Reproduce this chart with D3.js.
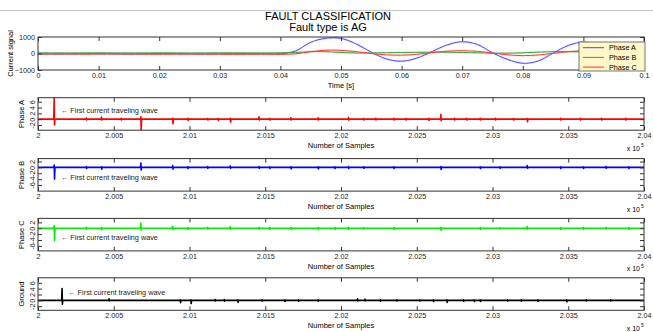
<!DOCTYPE html>
<html>
<head>
<meta charset="utf-8">
<script src="https://cdn.jsdelivr.net/npm/d3@7"></script>
<style>
body { margin: 0; background: #fff; }
svg { font-family: "Liberation Sans", Arial, sans-serif; }
</style>
</head>
<body>
<svg id="chart" width="653" height="332"></svg>
<script>
// ---- data ----
// top panel: time (s) and the three phase currents
const timeS = [0, 0.0025, 0.005, 0.0075, 0.01, 0.0125, 0.015, 0.0175, 0.02, 0.0225,
  0.025, 0.0275, 0.03, 0.0325, 0.035, 0.0375, 0.04, 0.0425, 0.045, 0.0475,
  0.05, 0.0525, 0.055, 0.0575, 0.06, 0.0625, 0.065, 0.0675, 0.07, 0.0725,
  0.075, 0.0775, 0.08, 0.0825, 0.085, 0.0875, 0.09, 0.0925, 0.095, 0.0975, 0.1];
const currentA = [-20, -25, -20, -15, -15, -20, -25, -20, -15, -15, -20, -25, -20, -15, -15, -20, -15,
  150, 680, 920, 915, 580, 80, -330, -467, -280, 110, 520, 714, 550, 40, -360, -592, -460, 20, 485, 690, 505, 30, -385, -555];
const currentB = [40, 35, 30, 35, 40, 35, 30, 35, 40, 35, 30, 35, 40, 40, 35, 35, 40,
  60, 110, 110, 60, 30, 30, 50, 60, 70, 80, 80, 60, 40, 20, 20, 40, 80, 110, 110, 100, 90, 90, 100, 100];
const currentC = [-30, -30, -35, -40, -35, -30, -35, -40, -45, -40, -35, -40, -45, -50, -45, -45, -50,
  -20, 110, 200, 190, 110, 0, -80, -100, -50, 50, 140, 170, 130, 30, -80, -130, -90, 10, 110, 150, 110, 10, -80, -120];
const timeTicks = [0, 0.01, 0.02, 0.03, 0.04, 0.05, 0.06, 0.07, 0.08, 0.09, 0.1];
const currentTicks = [-1000, 0, 1000];
const legendNames = ["Phase A", "Phase B", "Phase C"];

// lower panels: samples (x 10^5); each event = [sample, max, min]
const sampleTicks = [2, 2.005, 2.01, 2.015, 2.02, 2.025, 2.03, 2.035, 2.04];
const wavePhaseA = [[2.00108, 7.4, -2.0], [2.0032, 0.4, -0.3], [2.0042, 0.7, -0.3], [2.0055, 0.3, -0.3],
  [2.0068, 0.8, -3.8], [2.0089, 0.3, -1.6], [2.0099, 0.3, -0.4], [2.0112, 0.2, -0.3], [2.0119, 0.2, -0.4],
  [2.0127, 0.3, -1.0], [2.0146, 0.8, -0.3], [2.0153, 0.3, -0.3], [2.0167, 0.5, -0.3], [2.0185, 0.5, -0.3],
  [2.0205, 0.6, -0.3], [2.0215, 0.2, -0.3], [2.0223, 0.3, -0.3], [2.0235, 0.3, -0.3], [2.0243, 0.2, -0.3],
  [2.0258, 0.3, -0.4], [2.0266, 1.6, -0.5], [2.0275, 0.3, -0.3], [2.0283, 0.3, -0.3], [2.0292, 0.3, -0.3],
  [2.0302, 0.3, -0.3], [2.0314, 0.2, -0.3], [2.0323, 0.2, -0.9], [2.0345, 0.3, -0.3], [2.0358, 0.3, -0.3],
  [2.0372, 0.3, -0.3], [2.0388, 0.3, -0.3]];
const wavePhaseB = [[2.00108, 0.8, -4.0], [2.0032, 0.3, -0.4], [2.0042, 0.2, -0.6], [2.0068, 1.5, -0.9],
  [2.0089, 0.6, -0.6], [2.0099, 0.2, -0.4], [2.0112, 0.3, -0.3], [2.0127, 0.5, -0.3], [2.0146, 0.3, -0.3],
  [2.0153, 0.2, -0.4], [2.0167, 0.2, -0.5], [2.0185, 0.2, -0.5], [2.0196, 0.2, -0.4], [2.0205, 0.3, -0.4],
  [2.0215, 0.2, -0.3], [2.0235, 0.2, -0.4], [2.0266, 0.3, -0.7], [2.0292, 0.2, -0.4], [2.0305, 0.2, -0.3],
  [2.0323, 0.6, -0.3], [2.0345, 0.2, -0.4], [2.036, 0.2, -0.4], [2.0375, 0.3, -0.3], [2.039, 0.2, -0.4]];
const wavePhaseC = [[2.00108, 0.8, -4.2], [2.0032, 0.3, -0.4], [2.0042, 0.2, -0.5], [2.0068, 1.8, -0.6],
  [2.0089, 0.7, -0.5], [2.0099, 0.2, -0.4], [2.0112, 0.3, -0.3], [2.0127, 0.5, -0.3], [2.0146, 0.3, -0.3],
  [2.0153, 0.2, -0.4], [2.0167, 0.2, -0.5], [2.0185, 0.2, -0.5], [2.0196, 0.2, -0.4], [2.0205, 0.3, -0.4],
  [2.0215, 0.2, -0.3], [2.0235, 0.2, -0.4], [2.0266, 0.3, -0.7], [2.0292, 0.2, -0.4], [2.0305, 0.2, -0.3],
  [2.0323, 0.6, -0.3], [2.0345, 0.2, -0.4], [2.036, 0.2, -0.4], [2.0375, 0.3, -0.3], [2.039, 0.2, -0.4]];
const waveGround = [[2.0016, 4.0, -1.3], [2.0047, 0.5, -0.2], [2.0094, 0.2, -0.8], [2.0101, 0.2, -1.1],
  [2.0117, 0.3, -0.2], [2.0123, 0.3, -0.3], [2.0132, 0.2, -0.7], [2.0148, 0.2, -0.2], [2.0163, 0.2, -0.4],
  [2.0172, 0.2, -0.3], [2.0185, 0.2, -0.3], [2.0211, 0.5, -0.2], [2.0216, 0.4, -0.2], [2.0226, 0.2, -0.3],
  [2.0237, 0.2, -0.2], [2.0252, 0.2, -0.2], [2.0261, 0.2, -0.4], [2.027, 0.2, -0.7], [2.0281, 0.2, -0.3],
  [2.0288, 0.2, -0.4], [2.0292, 0.2, -0.4], [2.031, 0.2, -0.2], [2.0319, 0.2, -0.3], [2.033, 0.2, -0.3],
  [2.0349, 0.2, -0.5], [2.0362, 0.2, -0.2], [2.0378, 0.2, -0.2]];

// ---- layout ----
const svg = d3.select("#chart");
const left = 38, right = 644;
const axisColor = "#333";

svg.append("line").attr("x1", 0).attr("x2", 653).attr("y1", 10.5).attr("y2", 10.5)
  .attr("stroke", "#c8c8c8");

svg.append("text").attr("x", 328).attr("y", 20).attr("text-anchor", "middle")
  .style("font-size", "11px").text("FAULT CLASSIFICATION");
svg.append("text").attr("x", 328).attr("y", 31).attr("text-anchor", "middle")
  .style("font-size", "11px").text("Fault type is AG");

// draws the box, inward ticks on all four sides
function drawFrame(g, x, y, top, bottom, xTicks, xFmt, yTicks, yFmt, rotateY) {
  g.append("rect").attr("x", left).attr("y", top).attr("width", right - left).attr("height", bottom - top)
    .attr("fill", "none").attr("stroke", axisColor);

  g.append("g").attr("transform", `translate(0,${bottom})`)
    .call(d3.axisBottom(x).tickValues(xTicks).tickFormat(xFmt).tickSizeInner(-4).tickSizeOuter(0).tickPadding(3));
  g.append("g").attr("transform", `translate(0,${top})`)
    .call(d3.axisTop(x).tickValues(xTicks).tickFormat("").tickSizeInner(-4).tickSizeOuter(0));
  const yl = g.append("g").attr("transform", `translate(${left},0)`)
    .call(d3.axisLeft(y).tickValues(yTicks).tickFormat(yFmt).tickSizeInner(-4).tickSizeOuter(0).tickPadding(3));
  g.append("g").attr("transform", `translate(${right},0)`)
    .call(d3.axisRight(y).tickValues(yTicks).tickFormat("").tickSizeInner(-4).tickSizeOuter(0));

  g.selectAll(".domain").remove();
  g.selectAll(".tick line").attr("stroke", axisColor);
  g.selectAll(".tick text").attr("fill", "#222").style("font-size", "7.2px").style("font-family", "Liberation Sans, Arial, sans-serif");
  if (rotateY) {
    yl.selectAll(".tick text")
      .attr("x", null).attr("dy", null).attr("text-anchor", "middle")
      .attr("transform", "translate(-3,0) rotate(-90)");
  }
}

// ---- top panel ----
const topY0 = 37, topY1 = 70;
const xTime = d3.scaleLinear().domain([0, 0.1]).range([left, right]);
const yCur = d3.scaleLinear().domain([-1000, 1000]).range([topY1, topY0]);
const gTop = svg.append("g");

svg.append("clipPath").attr("id", "clip-top").append("rect")
  .attr("x", left).attr("y", topY0).attr("width", right - left).attr("height", topY1 - topY0);

const curLine = d3.line().x(d => xTime(d[0])).y(d => yCur(d[1])).curve(d3.curveCatmullRom);
const series = [
  { name: legendNames[0], values: currentA, color: "#4a4aff", pale: "#c8c8ff" },
  { name: legendNames[1], values: currentB, color: "#36a336", pale: "#c8ecc8" },
  { name: legendNames[2], values: currentC, color: "#ff3a3a", pale: "#ffcccc" }
];
const plotTop = gTop.append("g").attr("clip-path", "url(#clip-top)");
series.forEach(s => {
  plotTop.append("path").datum(timeS.map((t, i) => [t, s.values[i]]))
    .attr("fill", "none").attr("stroke", s.pale).attr("stroke-width", 2.5).attr("opacity", 0.45)
    .attr("stroke-dasharray", "12,2")
    .attr("d", curLine);
});
series.forEach(s => {
  plotTop.append("path").datum(timeS.map((t, i) => [t, s.values[i]]))
    .attr("fill", "none").attr("stroke", s.color).attr("stroke-width", 1)
    .attr("d", curLine);
});
drawFrame(gTop, xTime, yCur, topY0, topY1, timeTicks, d => d === 0 ? "0" : d3.format(".2~f")(d),
  currentTicks, d3.format("d"), false);

gTop.append("text").attr("x", (left + right) / 2).attr("y", topY1 + 17.5).attr("text-anchor", "middle")
  .style("font-size", "7.5px").text("Time [s]");
gTop.append("text").attr("transform", `translate(13,${(topY0 + topY1) / 2}) rotate(-90)`)
  .attr("text-anchor", "middle").style("font-size", "7.5px").text("Current signal");

// legend
const legend = gTop.append("g").attr("transform", "translate(579,42)");
legend.append("rect").attr("width", 66).attr("height", 29)
  .attr("fill", "#fff7c8").attr("stroke", "#555").attr("stroke-width", 0.8);
series.forEach((s, i) => {
  const ly = 5.7 + i * 9.7;
  legend.append("line").attr("x1", 4).attr("x2", 25).attr("y1", ly).attr("y2", ly)
    .attr("stroke", s.color).attr("stroke-width", 1);
  legend.append("text").attr("x", 30).attr("y", ly + 2.6).style("font-size", "7.2px").text(s.name);
});

// ---- lower panels ----
const xSample = d3.scaleLinear().domain([2, 2.04]).range([left, right]);
const panels = [
  { label: "Phase A", data: wavePhaseA, color: "#ff0000", top: 97.7, domain: [-3.8, 7.4], ticks: [-2, 0, 2, 4, 6], note: [2.00152, 2.0] },
  { label: "Phase B", data: wavePhaseB, color: "#0000ff", top: 158.6, domain: [-8.1, 3.0], ticks: [-6, -4, -2, 0, 2], note: [2.00152, -4.2] },
  { label: "Phase C", data: wavePhaseC, color: "#00ee00", top: 218.4, domain: [-7.7, 3.35], ticks: [-6, -4, -2, 0, 2], note: [2.00152, -4.1] },
  { label: "Ground", data: waveGround, color: "#000000", top: 277.8, domain: [-3.4, 7.7], ticks: [-2, 0, 2, 4, 6], note: [2.002, 1.74] }
];
const panelH = 32.5;

panels.forEach((p, k) => {
  const top = p.top, bottom = p.top + panelH;
  const y = d3.scaleLinear().domain(p.domain).range([bottom, top]);
  const g = svg.append("g");

  svg.append("clipPath").attr("id", "clip-" + k).append("rect")
    .attr("x", left).attr("y", top).attr("width", right - left).attr("height", panelH);

  // baseline with spikes from the event list
  const pts = [[2, 0]];
  p.data.forEach(([s, hi, lo]) => {
    pts.push([s - 0.00004, 0], [s - 0.00001, hi], [s + 0.00001, lo], [s + 0.00004, 0]);
  });
  pts.push([2.04, 0]);

  g.append("g").attr("clip-path", `url(#clip-${k})`).append("path").datum(pts)
    .attr("fill", "none").attr("stroke", p.color).attr("stroke-width", 1.6)
    .attr("stroke-linejoin", "round")
    .attr("d", d3.line().x(d => xSample(d[0])).y(d => y(d[1])));

  drawFrame(g, xSample, y, top, bottom, sampleTicks, d => String(+d.toFixed(3)), p.ticks, d => String(d), true);

  g.append("text").attr("x", xSample(p.note[0])).attr("y", y(p.note[1]))
    .style("font-size", "7.3px").attr("fill", "#222").text("\u2190 First current traveling wave");

  g.append("text").attr("x", (left + right) / 2).attr("y", bottom + 18).attr("text-anchor", "middle")
    .style("font-size", "7.5px").text("Number of Samples");
  g.append("text").attr("x", 640).attr("y", bottom + 20.5).attr("text-anchor", "end")
    .style("font-size", "7px").text("x 10");
  g.append("text").attr("x", 641).attr("y", bottom + 17).style("font-size", "5px").text("5");

  g.append("text").attr("transform", `translate(24,${top + panelH / 2}) rotate(-90)`)
    .attr("text-anchor", "middle").style("font-size", "7.5px").text(p.label);
});
</script>
</body>
</html>
